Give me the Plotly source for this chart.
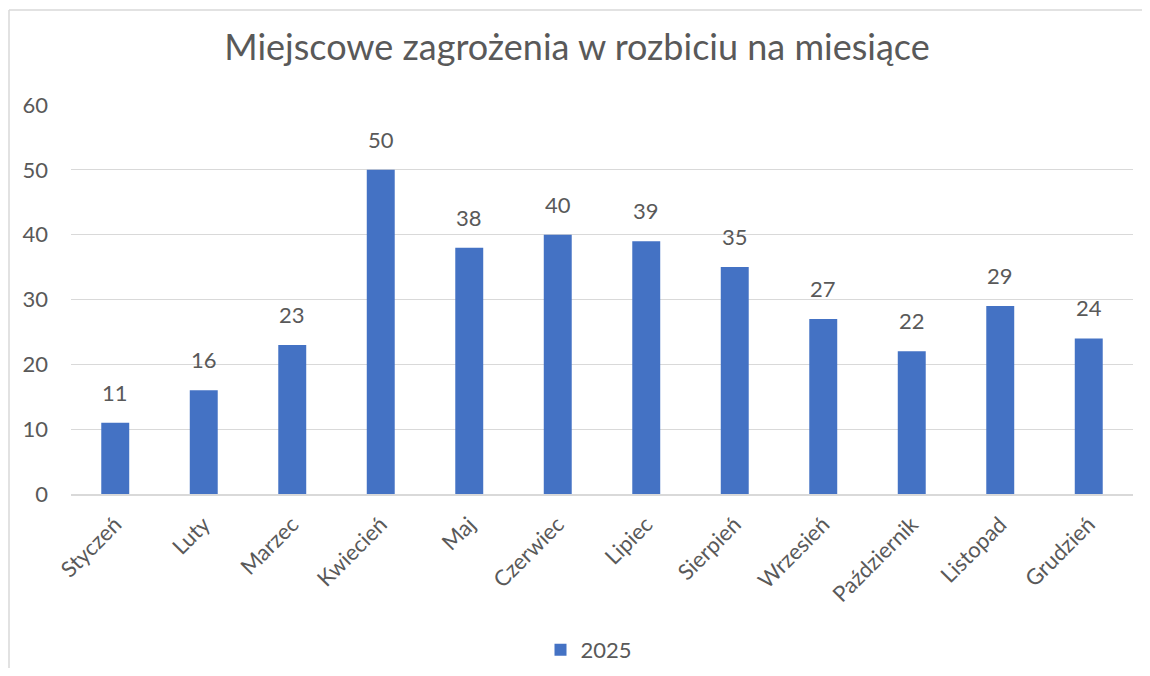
import plotly.graph_objects as go

months = ["Styczeń", "Luty", "Marzec", "Kwiecień", "Maj", "Czerwiec", "Lipiec",
          "Sierpień", "Wrzesień", "Październik", "Listopad", "Grudzień"]
values_2025 = [11, 16, 23, 50, 38, 40, 39, 35, 27, 22, 29, 24]
series_name = "2025"
y_ticks = [0, 10, 20, 30, 40, 50, 60]
title_text = "Miejscowe zagrożenia w rozbiciu na miesiące"

FONT = "Lato"
TXT = "#595959"
BAR = "#4472C4"
GRID = "#d9d9d9"

OFF = 8  # page body margin offset
W, H = 1150 - 2 * OFF, 676 - 2 * OFF
L, R, T, B = 71 - OFF, W - (1133 - OFF), 105 - OFF, H - (494 - OFF)

fig = go.Figure()
fig.add_trace(go.Bar(x=months, y=values_2025, name=series_name,
                     marker=dict(color=BAR, line=dict(width=0))))

for m, v in zip(months, values_2025):
    fig.add_annotation(x=m, y=v, text=str(v), showarrow=False,
                       yanchor="bottom", yshift=15,
                       font=dict(family=FONT, size=22, color=TXT))

pw = W - L - R
ph = H - T - B
# chart border (top and left edges visible in the frame)
bx0 = (1 - L) / pw
by1 = (H - B - 2) / ph
fig.add_shape(type="line", xref="paper", yref="paper",
              x0=bx0, x1=(W - L) / pw, y0=by1, y1=by1,
              line=dict(color=GRID, width=1.5), layer="below")
fig.add_shape(type="line", xref="paper", yref="paper",
              x0=bx0, x1=bx0, y0=by1, y1=(H - B - H) / ph,
              line=dict(color=GRID, width=1.5), layer="below")

fig.update_layout(
    width=W, height=H,
    margin=dict(l=L, r=R, t=T, b=B, autoexpand=False),
    paper_bgcolor="white", plot_bgcolor="white",
    font=dict(family=FONT, color=TXT, size=22),
    title=dict(text=title_text, x=(577 - OFF) / W, xanchor="center", xref="container",
               y=1 - (47 - OFF) / H, yanchor="middle", yref="container",
               font=dict(family=FONT, size=36, color=TXT)),
    bargap=0.684,
    showlegend=True,
    legend=dict(orientation="h", x=(589 - OFF) / W, xanchor="center", xref="container",
                y=1 - (650 - OFF) / H, yref="container",
                yanchor="middle", font=dict(family=FONT, size=22, color=TXT),
                itemwidth=30),
    xaxis=dict(tickangle=-45, tickfont=dict(family=FONT, size=22, color=TXT),
               showgrid=False, showline=True, linecolor=GRID, linewidth=2,
               ticks="", ticklabelstandoff=7, fixedrange=True, automargin=False),
    yaxis=dict(range=[0, 60], tickvals=y_ticks, ticktext=[str(t) for t in y_ticks],
               tickfont=dict(family=FONT, size=22, color=TXT),
               showgrid=True, gridcolor=GRID, gridwidth=1.3,
               zeroline=False, showline=False, ticks="",
               ticklabelstandoff=22, fixedrange=True, automargin=False),
)

fig.write_html("out.html")
